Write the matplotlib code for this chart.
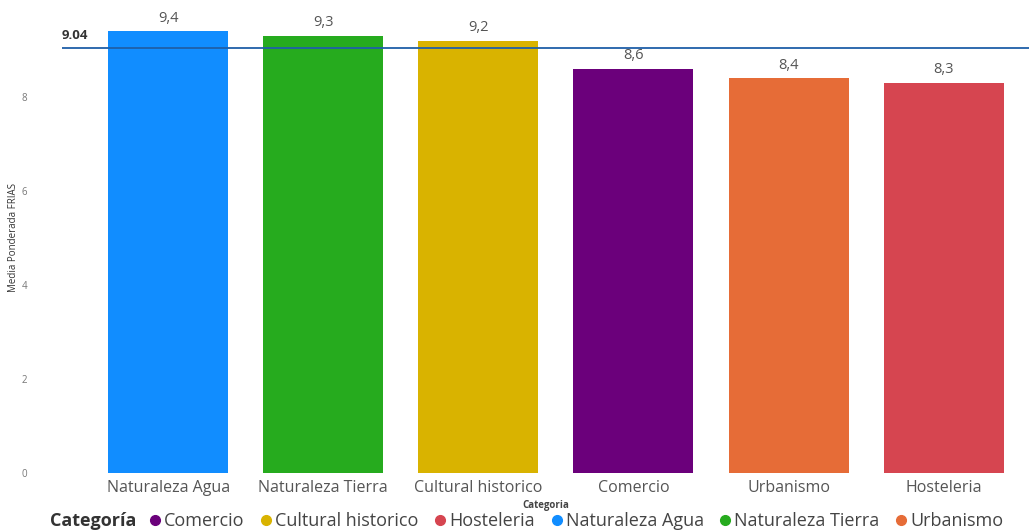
import matplotlib
matplotlib.use("Agg")
import matplotlib.pyplot as plt
from matplotlib.lines import Line2D

categories = ["Naturaleza Agua", "Naturaleza Tierra", "Cultural historico", "Comercio", "Urbanismo", "Hosteleria"]
values = [9.4, 9.3, 9.2, 8.6, 8.4, 8.3]
value_labels = ["9,4", "9,3", "9,2", "8,6", "8,4", "8,3"]
colors = ["#118DFF", "#26AB1E", "#D9B300", "#6B007B", "#E66C37", "#D64550"]
ref_value = 9.04
legend_order = ["Comercio", "Cultural historico", "Hosteleria", "Naturaleza Agua", "Naturaleza Tierra", "Urbanismo"]
yticks = [0, 2, 4, 6, 8]

plt.rcParams['font.family'] = ['Open Sans', 'DejaVu Sans']

fig = plt.figure(figsize=(10.3, 5.3), dpi=100)
ax = fig.add_axes([62/1030, 57/530, 967/1030, 470/530])

x = list(range(len(categories)))
bars = ax.bar(x, values, width=0.774, color=colors)
for xi, v, lab in zip(x, values, value_labels):
    ax.annotate(lab, (xi, v), xytext=(0, 4), textcoords="offset points",
                ha="center", va="bottom", fontsize=10.5, color="#555555")

ax.axhline(ref_value, color="#1F5FA8", linewidth=1.3, zorder=3)
ax.text(0.0, ref_value + 0.13, f"{ref_value:.2f}", transform=ax.get_yaxis_transform(),
        ha="left", va="bottom", fontsize=9.5, fontweight="bold", color="#333333")

ax.set_xlim(-0.684, 5.55)
ax.set_ylim(0, 10)
ax.set_xticks(x)
ax.set_xticklabels(categories, fontsize=11.5, color="#555555")
ax.set_yticks(yticks)
ax.set_yticklabels([str(t) for t in yticks], fontsize=7, color="#777777")
ax.tick_params(axis="both", length=0)
ax.tick_params(axis="y", pad=25)
ax.tick_params(axis="x", pad=5)
for s in ax.spines.values():
    s.set_visible(False)

ax.set_ylabel("Media Ponderada FRIAS", fontsize=7, color="#333333", labelpad=2)
ax.set_xlabel("Categoria", fontsize=7, fontweight="bold", color="#444444", labelpad=3)

fig.text(50/1030, 9/530, "Categoría", fontsize=13, fontweight="bold", color="#333333",
         ha="left", va="center")
color_map = dict(zip(categories, colors))
handles = [Line2D([], [], marker="o", linestyle="", markersize=7,
                  markerfacecolor=color_map[c], markeredgecolor=color_map[c]) for c in legend_order]
fig.legend(handles, legend_order, loc="center left", bbox_to_anchor=(146/1030, 9/530),
           ncol=6, frameon=False, fontsize=13, handletextpad=0.0, columnspacing=0.7,
           borderpad=0, borderaxespad=0, labelcolor="#444444", handlelength=1.0)

fig.savefig("out.png", dpi=100)
